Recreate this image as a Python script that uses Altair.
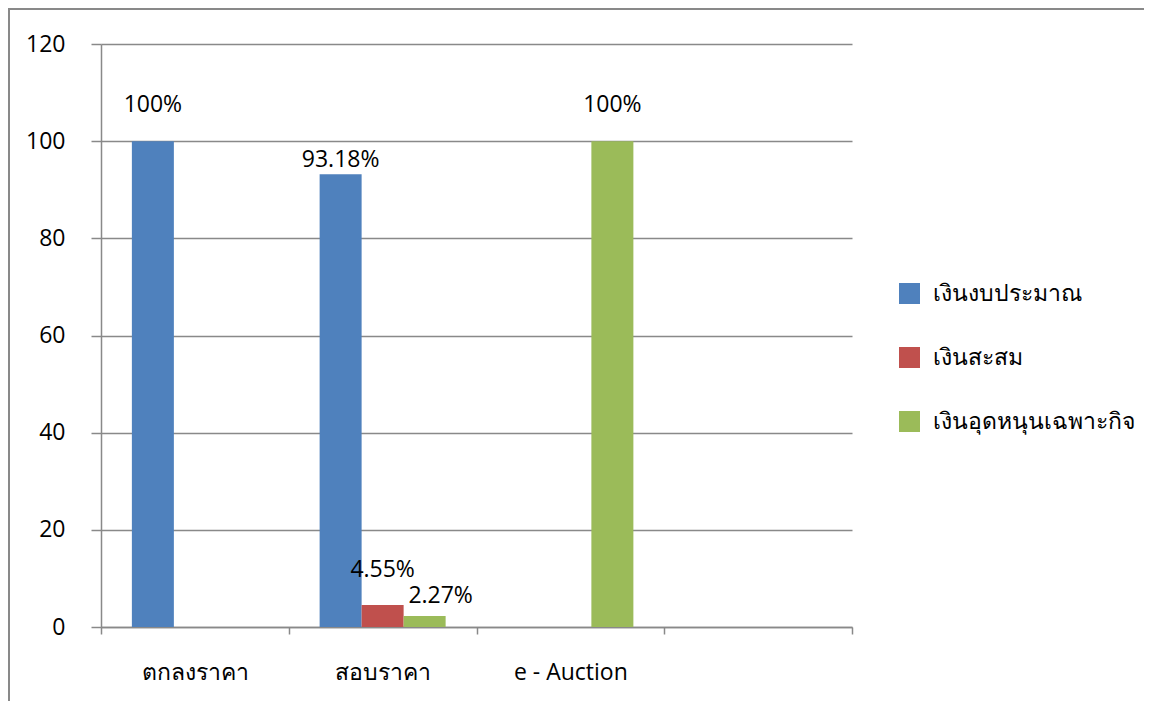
import altair as alt
import pandas as pd

# ---- data ----
categories = ["ตกลงราคา", "สอบราคา", "e - Auction"]
series = ["เงินงบประมาณ", "เงินสะสม", "เงินอุดหนุนเฉพาะกิจ"]
budget = [100, 93.18, 0]      # เงินงบประมาณ
accum = [0, 4.55, 0]          # เงินสะสม
grant = [0, 2.27, 100]        # เงินอุดหนุนเฉพาะกิจ
bar_labels = [
    ["100%", "", ""],
    ["93.18%", "4.55%", "2.27%"],
    ["", "", "100%"],
]
y_ticks = [0, 20, 40, 60, 80, 100, 120]

# ---- styling ----
colors = ["#4F81BD", "#C0504D", "#9BBB59"]
label_lift = [[-29, 0, 0], [-7, -28, -13], [0, 0, -29]]   # px above bar top
label_shift = [[0, 0, 0], [0, 0, 16], [0, 0, 0]]          # px to the right
FONT = "Open Sans"
GRAY = "#898989"

rows = []
for ci, cat in enumerate(categories):
    for si, s in enumerate(series):
        v = [budget, accum, grant][si][ci]
        rows.append({
            "cat": cat, "series": s, "value": v,
            "label": bar_labels[ci][si],
            "lift": label_lift[ci][si],
            "shift": label_shift[ci][si],
        })
df = pd.DataFrame(rows)

x_enc = alt.X(
    "cat:N",
    scale=alt.Scale(domain=categories + [" "], paddingInner=0, paddingOuter=0),
    axis=alt.Axis(title=None, tickBand="extent", tickSize=7, labelPadding=27,
                  labelAngle=0, grid=False),
)
xoff_enc = alt.XOffset(
    "series:N",
    scale=alt.Scale(domain=series, paddingInner=0, paddingOuter=0.735),
)
y_enc = alt.Y(
    "value:Q",
    scale=alt.Scale(domain=[0, 120], nice=False),
    axis=alt.Axis(title=None, values=y_ticks, tickSize=10, labelPadding=26,
                  grid=True),
)

base = alt.Chart(df)

bars = base.mark_bar(width=42).encode(
    x=x_enc,
    xOffset=xoff_enc,
    y=y_enc,
    color=alt.Color(
        "series:N",
        scale=alt.Scale(domain=series, range=colors),
        legend=alt.Legend(
            title=None, orient="none", legendX=797, legendY=238,
            symbolType="square", symbolSize=441, symbolStrokeWidth=0,
            symbolOpacity=1, labelFontSize=23, labelFont=FONT,
            labelColor="#000000", rowPadding=40, labelOffset=12, padding=0,
            labelLimit=400,
        ),
    ),
)

label_common = dict(baseline="alphabetic", align="center", fontSize=23,
                    font=FONT, color="#000000")

# one text layer per distinct label placement
text_layers = []
placements = sorted({(r["lift"], r["shift"]) for r in rows if r["label"]})
for lift, shift in placements:
    text_layers.append(
        base.transform_filter(
            f"datum.label != '' && datum.lift == {lift} && datum.shift == {shift}"
        ).mark_text(dy=lift, dx=shift, **label_common).encode(
            x=alt.X("cat:N"),
            xOffset=alt.XOffset("series:N"),
            y=alt.Y("value:Q"),
            text="label:N",
        )
    )

frame_data = alt.Data(values=[{"k": 1}])
frame_top = alt.Chart(frame_data).mark_rule(color=GRAY, strokeWidth=2).encode(
    x=alt.value(-92), x2=alt.value(1060), y=alt.value(-35)
)
frame_left = alt.Chart(frame_data).mark_rule(color=GRAY, strokeWidth=2).encode(
    x=alt.value(-92), y=alt.value(-36), y2=alt.value(700)
)

chart = alt.layer(frame_top, frame_left, bars, *text_layers).properties(
    width=751, height=583,
    autosize=alt.AutoSizeParams(type="none"),
    padding={"left": 93, "top": 36, "right": 292, "bottom": 74},
).configure_view(
    stroke=None
).configure_axis(
    labelFont=FONT, labelFontSize=23, labelColor="#000000",
    domainColor=GRAY, domainWidth=1.5,
    tickColor=GRAY, tickWidth=1.5,
    gridColor=GRAY, gridWidth=1.5,
)

chart.save("out.html", embed_options={"renderer": "svg", "actions": False})
